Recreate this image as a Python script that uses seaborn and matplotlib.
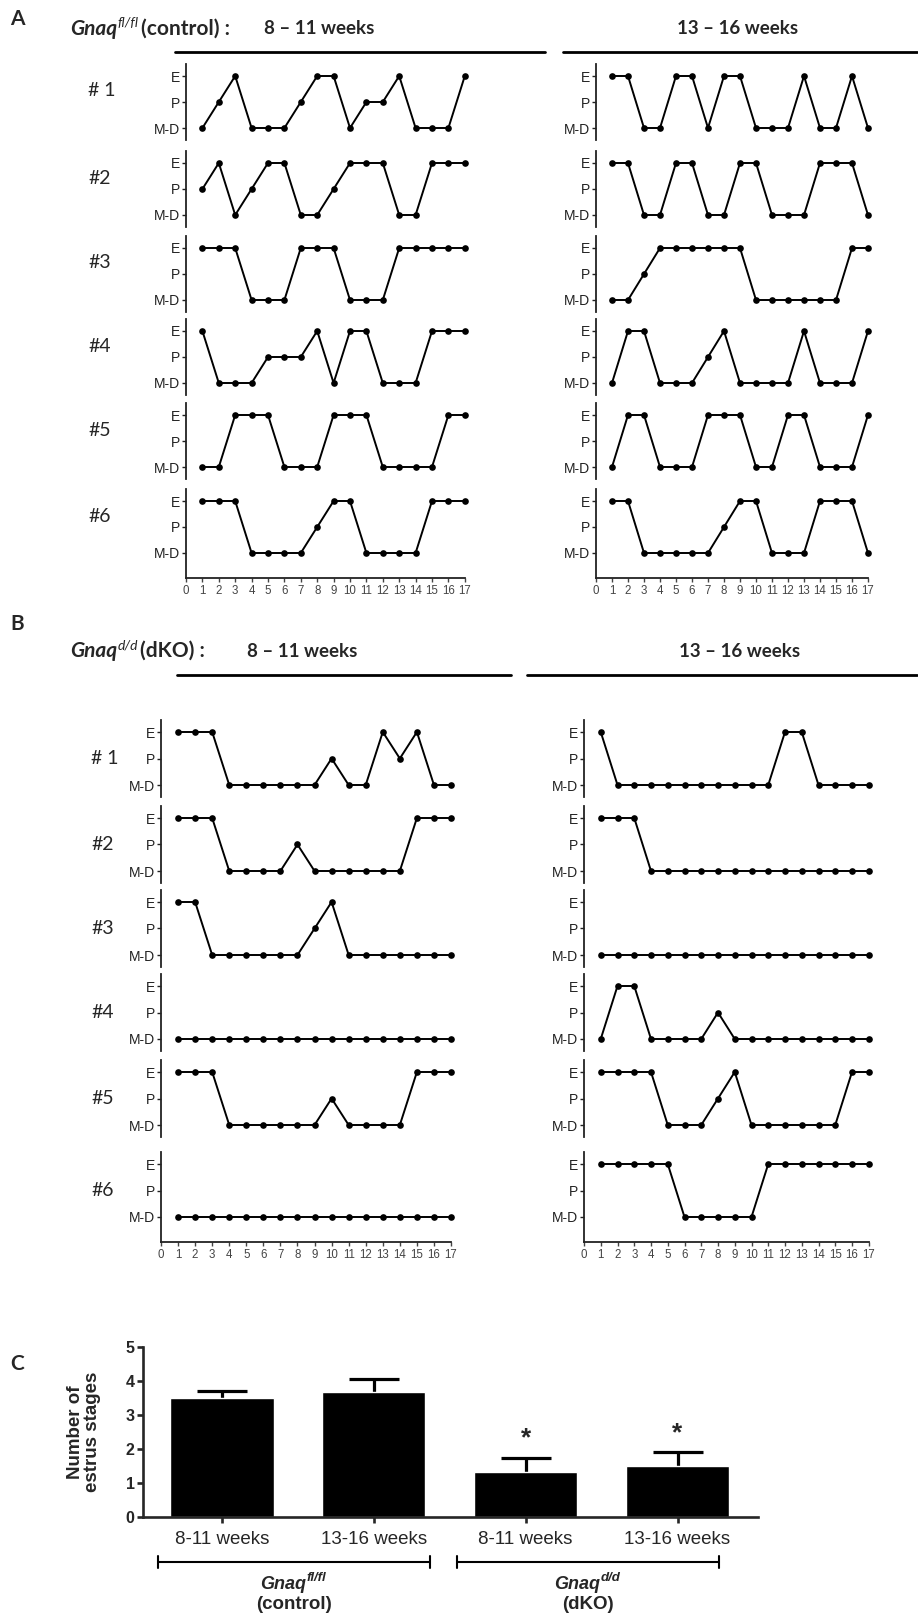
import matplotlib
matplotlib.use("Agg")
import matplotlib.pyplot as plt
import seaborn as sns
import pandas as pd

W, H = 918, 1617

# stage codes: 0 = M-D, 1 = P, 2 = E
days = list(range(1, 18))
stage_ticks = [0, 1, 2]
stage_labels = ["M-D", "P", "E"]
day_ticks = list(range(0, 18))
mouse_labels_a = ["# 1", "#2", "#3", "#4", "#5", "#6"]
mouse_labels_b = ["# 1", "#2", "#3", "#4", "#5", "#6"]

ctrl_8_11 = [
    [0, 1, 2, 0, 0, 0, 1, 2, 2, 0, 1, 1, 2, 0, 0, 0, 2],
    [1, 2, 0, 1, 2, 2, 0, 0, 1, 2, 2, 2, 0, 0, 2, 2, 2],
    [2, 2, 2, 0, 0, 0, 2, 2, 2, 0, 0, 0, 2, 2, 2, 2, 2],
    [2, 0, 0, 0, 1, 1, 1, 2, 0, 2, 2, 0, 0, 0, 2, 2, 2],
    [0, 0, 2, 2, 2, 0, 0, 0, 2, 2, 2, 0, 0, 0, 0, 2, 2],
    [2, 2, 2, 0, 0, 0, 0, 1, 2, 2, 0, 0, 0, 0, 2, 2, 2],
]
ctrl_13_16 = [
    [2, 2, 0, 0, 2, 2, 0, 2, 2, 0, 0, 0, 2, 0, 0, 2, 0],
    [2, 2, 0, 0, 2, 2, 0, 0, 2, 2, 0, 0, 0, 2, 2, 2, 0],
    [0, 0, 1, 2, 2, 2, 2, 2, 2, 0, 0, 0, 0, 0, 0, 2, 2],
    [0, 2, 2, 0, 0, 0, 1, 2, 0, 0, 0, 0, 2, 0, 0, 0, 2],
    [0, 2, 2, 0, 0, 0, 2, 2, 2, 0, 0, 2, 2, 0, 0, 0, 2],
    [2, 2, 0, 0, 0, 0, 0, 1, 2, 2, 0, 0, 0, 2, 2, 2, 0],
]
dko_8_11 = [
    [2, 2, 2, 0, 0, 0, 0, 0, 0, 1, 0, 0, 2, 1, 2, 0, 0],
    [2, 2, 2, 0, 0, 0, 0, 1, 0, 0, 0, 0, 0, 0, 2, 2, 2],
    [2, 2, 0, 0, 0, 0, 0, 0, 1, 2, 0, 0, 0, 0, 0, 0, 0],
    [0, 0, 0, 0, 0, 0, 0, 0, 0, 0, 0, 0, 0, 0, 0, 0, 0],
    [2, 2, 2, 0, 0, 0, 0, 0, 0, 1, 0, 0, 0, 0, 2, 2, 2],
    [0, 0, 0, 0, 0, 0, 0, 0, 0, 0, 0, 0, 0, 0, 0, 0, 0],
]
dko_13_16 = [
    [2, 0, 0, 0, 0, 0, 0, 0, 0, 0, 0, 2, 2, 0, 0, 0, 0],
    [2, 2, 2, 0, 0, 0, 0, 0, 0, 0, 0, 0, 0, 0, 0, 0, 0],
    [0, 0, 0, 0, 0, 0, 0, 0, 0, 0, 0, 0, 0, 0, 0, 0, 0],
    [0, 2, 2, 0, 0, 0, 0, 1, 0, 0, 0, 0, 0, 0, 0, 0, 0],
    [2, 2, 2, 2, 0, 0, 0, 1, 2, 0, 0, 0, 0, 0, 0, 2, 2],
    [2, 2, 2, 2, 2, 0, 0, 0, 0, 0, 2, 2, 2, 2, 2, 2, 2],
]

# panel C
bar_keys = ["ctrl_8_11", "ctrl_13_16", "dko_8_11", "dko_13_16"]
age_labels = ["8-11 weeks", "13-16 weeks", "8-11 weeks", "13-16 weeks"]
stage_means = [3.5, 3.67, 1.33, 1.5]
stage_sems = [0.2, 0.4, 0.42, 0.42]
signif = ["", "", "*", "*"]

sns.set_style("ticks")
plt.rcParams['font.family'] = ['Liberation Sans', 'DejaVu Sans']
HEAD = ['Lato', 'DejaVu Sans']

fig = plt.figure(figsize=(W / 100, H / 100), dpi=100)

# overlay in pixel coords for headings, rules and brackets
ov = fig.add_axes([0, 0, 1, 1])
ov.set_xlim(0, W)
ov.set_ylim(H, 0)
ov.axis('off')


def row_axes(x0, ppd, y_e, unit, bottom=None):
    top = y_e - 0.45 * unit
    y_md = y_e + 2 * unit
    bot = bottom if bottom else y_md + 0.45 * unit
    ax = fig.add_axes([x0 / W, 1 - bot / H, 17 * ppd / W, (bot - top) / H])
    ax.set_xlim(0, 17)
    ax.set_ylim(-(bot - y_md) / unit, 2.45)
    return ax


def draw_column(data, x0, ppd, rows_e, unit, xaxis_y):
    for i, vals in enumerate(data):
        last = i == len(data) - 1
        ax = row_axes(x0, ppd, rows_e[i], unit, xaxis_y if last else None)
        sns.lineplot(x=days, y=vals, ax=ax, color='black', lw=1.4, marker='o',
                     markersize=4.8, markeredgewidth=0, clip_on=False)
        ax.patch.set_alpha(0)
        sns.despine(ax=ax, bottom=not last)
        ax.spines['left'].set_linewidth(1.3)
        ax.spines['left'].set_color('#222')
        ax.set_yticks(stage_ticks)
        ax.set_yticklabels(stage_labels)
        ax.tick_params(axis='y', length=3, width=1, pad=1, labelsize=10, colors='#222')
        if last:
            ax.spines['bottom'].set_linewidth(1.3)
            ax.spines['bottom'].set_color('#222')
            ax.set_xticks(day_ticks)
            ax.tick_params(axis='x', length=3, width=1, pad=2, labelsize=8.3,
                           colors='#444')
        else:
            ax.set_xticks([])
        ax.set_xlabel('')
        ax.set_ylabel('')


def header(letter, ly, hy, sup, tag, early_x, late_x, line_y, left_rule, right_rule):
    ov.text(10, ly, letter, family=HEAD, weight='bold', fontsize=15, va='center')
    g = ov.text(70, hy, "Gnaq", family=HEAD, weight='bold', style='italic',
                fontsize=15, va='center')
    s = ov.annotate(sup, xy=(1, 0.5), xycoords=g, xytext=(0.5, 0),
                    textcoords='offset points', family=HEAD, style='italic',
                    fontsize=10, va='bottom')
    ov.annotate(tag, xy=(1, 0), xycoords=(s, g), xytext=(1.5, 0),
                textcoords='offset points', family=HEAD, weight='bold',
                fontsize=15, va='bottom')
    ov.text(early_x, hy, "8 \u2013 11 weeks", family=HEAD, weight='bold',
            fontsize=13.5, ha='center', va='center')
    ov.text(late_x, hy, "13 \u2013 16 weeks", family=HEAD, weight='bold',
            fontsize=13.5, ha='center', va='center')
    ov.plot(left_rule, [line_y, line_y], color='black', lw=2)
    ov.plot(right_rule, [line_y, line_y], color='black', lw=2)


# ---- panel A ----
a_rows_e = [76, 163, 248, 331, 415, 501]
header("A", 19, 29, "fl/fl", "(control) :", 319, 738, 52, [175, 545], [563, 917])
draw_column(ctrl_8_11, 186, 16.4, a_rows_e, 26, 578)
draw_column(ctrl_13_16, 596, 16.0, a_rows_e, 26, 578)
for lab, ye in zip(mouse_labels_a, a_rows_e):
    ov.text(88, ye + 15, lab, family=HEAD, fontsize=14, va='center')

# ---- panel B ----
b_rows_e = [732, 818, 902, 986, 1072, 1164]
header("B", 624, 651, "d/d", "(dKO) :", 302, 740, 675, [177, 511], [527, 917])
draw_column(dko_8_11, 161, 17.06, b_rows_e, 26.5, 1242)
draw_column(dko_13_16, 584, 16.75, b_rows_e, 26.5, 1242)
for lab, ye in zip(mouse_labels_b, b_rows_e):
    ov.text(91, ye + 26.5, lab, family=HEAD, fontsize=14, va='center')

# ---- panel C ----
c_left, c_right, c_zero, c_five = 143, 758, 1517, 1347
axc = fig.add_axes([c_left / W, 1 - c_zero / H, (c_right - c_left) / W,
                    (c_zero - c_five) / H])
df = pd.DataFrame({"bar": bar_keys, "mean": stage_means})
sns.barplot(data=df, x="bar", y="mean", color="black", saturation=1,
            width=0.68, errorbar=None, ax=axc, zorder=3)
# symmetric SEM bars drawn behind the bars, so only the upper half shows
axc.errorbar(range(len(bar_keys)), stage_means, yerr=stage_sems, fmt='none',
             ecolor='black', elinewidth=2.3, capsize=18, capthick=2.3, zorder=2)
for i, (m, e, s) in enumerate(zip(stage_means, stage_sems, signif)):
    if s:
        axc.text(i, m + e + 0.55, s, ha='center', va='center', fontsize=19,
                 weight='bold')
axc.set_xlim(-0.52, 3.53)
axc.set_ylim(0, 5)
axc.set_yticks(range(6))
axc.set_xticks(range(4))
axc.set_xticklabels(age_labels, fontsize=13.5)
sns.despine(ax=axc)
for sp in ['left', 'bottom']:
    axc.spines[sp].set_linewidth(1.9)
    axc.spines[sp].set_zorder(4)
axc.tick_params(axis='y', length=4, width=1.9, pad=2, labelsize=11.5)
for t in axc.get_yticklabels():
    t.set_fontweight('bold')
axc.tick_params(axis='x', length=4.5, width=1.9, pad=5.5)
axc.set_xlabel('')
axc.set_ylabel('')
axc.patch.set_alpha(0)

ov.text(10, c_five + 17, "C", family=HEAD, weight='bold', fontsize=15, va='center')
ov.text(84, (c_zero + c_five) / 2, "Number of\nestrus stages", rotation=90,
        ha='center', va='center', fontsize=13.5, weight='bold', linespacing=1.0)

for (x1, x2), sup, tag in [((158, 430), "fl/fl", "(control)"),
                           ((457, 719), "d/d", "(dKO)")]:
    ov.plot([x1, x2], [1562, 1562], color='black', lw=1.5)
    ov.plot([x1, x1], [1556, 1568], color='black', lw=1.5)
    ov.plot([x2, x2], [1556, 1568], color='black', lw=1.5)
    cx = (x1 + x2) / 2
    g = ov.text(cx + 12, 1584, "Gnaq", ha='right', va='center', fontsize=13,
                weight='bold', style='italic')
    ov.annotate(sup, xy=(1, 0.5), xycoords=g, xytext=(0.5, 0),
                textcoords='offset points', fontsize=9.5, weight='bold',
                style='italic', va='bottom')
    ov.text(cx, 1604, tag, ha='center', va='center', fontsize=13.5, weight='bold')

fig.savefig("out.png", dpi=100)
